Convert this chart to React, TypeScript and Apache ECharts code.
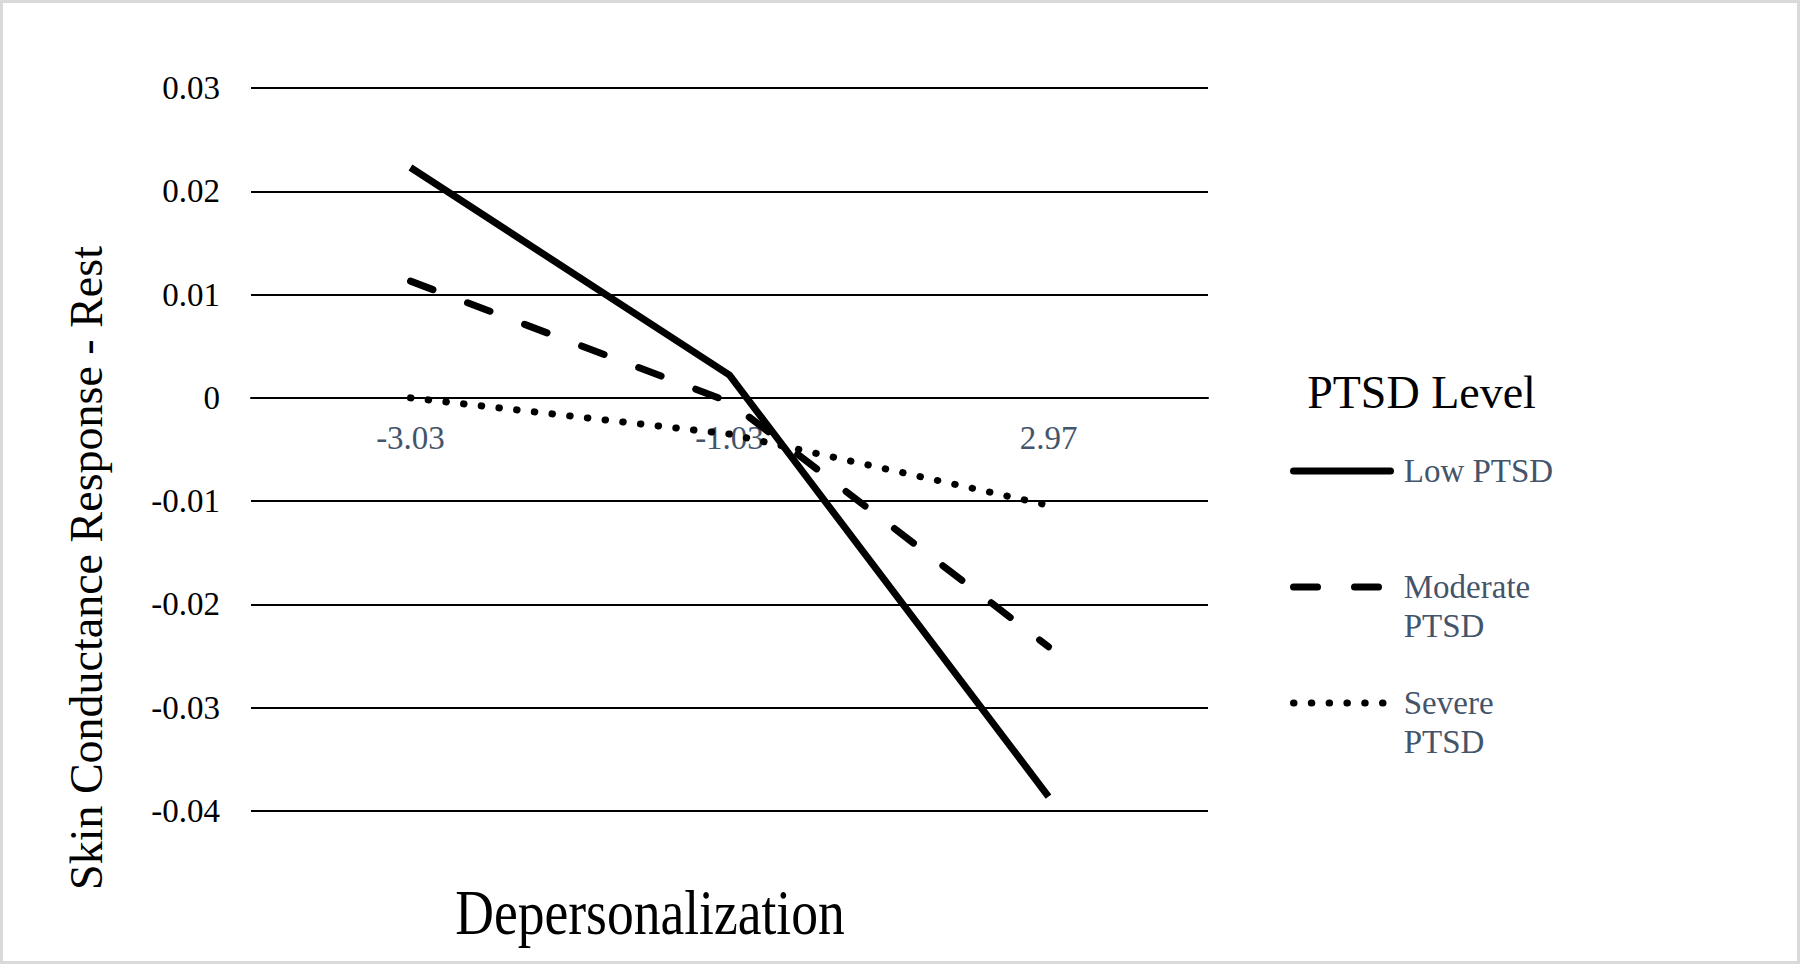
import React, { useEffect, useRef } from "react";
import * as echarts from "echarts";

// ---- data ----
const categories = ["-3.03", "-1.03", "2.97"];
const seriesNames = ["Low PTSD", "Moderate PTSD", "Severe PTSD"];
const lowPTSD = [0.0223, 0.0022, -0.0386];
const moderatePTSD = [0.0113, -0.0004, -0.0241];
const severePTSD = [0.0, -0.0035, -0.0104];
const yMin = -0.04;
const yMax = 0.03;
const yStep = 0.01;
const yAxisTitle = "Skin Conductance Response - Rest";
const xAxisTitle = "Depersonalization";
const legendTitle = "PTSD Level";
const legendLabels: Record<string, string> = {
  "Low PTSD": " \n Low PTSD\n ",
  "Moderate PTSD": " \n Moderate\n PTSD",
  "Severe PTSD": " \n Severe\n PTSD",
};

const FONT = '"Liberation Serif", "Times New Roman", serif';
const SLATE = "#44546A";

const GRID_TOP = 88;
const GRID_BOTTOM = 153;
const CHART_H = 964;

export default function App() {
  const ref = useRef<HTMLDivElement>(null);

  useEffect(() => {
    if (!ref.current) return;
    const chart = echarts.init(ref.current, undefined, { renderer: "svg" });

    // place the category axis on the value axis' zero line
    const plotH = CHART_H - GRID_TOP - GRID_BOTTOM;
    const zeroOffset = -((0 - yMin) / (yMax - yMin)) * plotH;

    const mkSeries = (name: string, data: number[], type: any, cap: string) => ({
      name,
      type: "line",
      data,
      symbol: "none",
      showSymbol: false,
      lineStyle: { color: "#000", width: 7, type, cap, join: "miter" },
      emphasis: { disabled: true },
    });

    chart.setOption({
      animation: false,
      backgroundColor: "#fff",
      grid: { left: 251, right: 592, top: GRID_TOP, bottom: GRID_BOTTOM, containLabel: false },
      xAxis: {
        type: "category",
        data: categories,
        boundaryGap: true,
        position: "bottom",
        offset: zeroOffset,
        axisLine: { show: true, onZero: false, lineStyle: { color: "#000", width: 2 } },
        axisTick: { show: false },
        axisLabel: { color: SLATE, fontSize: 33, fontFamily: FONT, margin: 24 },
        splitLine: { show: false },
      },
      yAxis: {
        type: "value",
        min: yMin,
        max: yMax,
        interval: yStep,
        axisLine: { show: false },
        axisTick: { show: false },
        axisLabel: {
          color: "#000",
          fontSize: 33,
          fontFamily: FONT,
          margin: 31,
          formatter: (v: number) => (Math.abs(v) < 1e-9 ? "0" : String(parseFloat(v.toFixed(2)))),
        },
        splitLine: { show: true, lineStyle: { color: "#000", width: 2 } },
      },
      legend: {
        data: seriesNames,
        orient: "vertical",
        left: 1290,
        top: 413,
        padding: 0,
        itemGap: 0,
        itemWidth: 97,
        itemHeight: 20,
        selectedMode: false,
        formatter: (name: string) => legendLabels[name] ?? name,
        textStyle: { color: SLATE, fontSize: 33, fontFamily: FONT, lineHeight: 38.67 },
        lineStyle: { width: 7, cap: "round" },
        itemStyle: { opacity: 0, borderWidth: 0 },
      },
      series: [
        mkSeries(seriesNames[0], lowPTSD, "solid", "butt"),
        mkSeries(seriesNames[1], moderatePTSD, [24, 37], "round"),
        mkSeries(seriesNames[2], severePTSD, [0.5, 17.3], "round"),
      ],
      graphic: [
        {
          type: "rect",
          shape: { x: 1.5, y: 1.5, width: 1797, height: 961 },
          style: { fill: "none", stroke: "#d9d9d9", lineWidth: 3 },
          silent: true,
        },
        {
          type: "text",
          x: 86,
          y: 568,
          rotation: Math.PI / 2,
          style: {
            text: yAxisTitle,
            fontSize: 46,
            fontFamily: FONT,
            fill: "#000",
            align: "center",
            verticalAlign: "middle",
          },
          silent: true,
        },
        {
          type: "text",
          x: 650,
          y: 913,
          scaleX: 0.85,
          style: {
            text: xAxisTitle,
            fontSize: 63,
            fontFamily: FONT,
            fill: "#000",
            align: "center",
            verticalAlign: "middle",
          },
          silent: true,
        },
        {
          type: "text",
          x: 1421.5,
          y: 392.5,
          style: {
            text: legendTitle,
            fontSize: 46,
            fontFamily: FONT,
            fill: "#000",
            align: "center",
            verticalAlign: "middle",
          },
          silent: true,
        },
      ],
    });

    return () => chart.dispose();
  }, []);

  return (
    <div
      ref={ref}
      style={{ position: "absolute", left: 0, top: 0, width: 1800, height: 964, background: "#fff" }}
    />
  );
}
